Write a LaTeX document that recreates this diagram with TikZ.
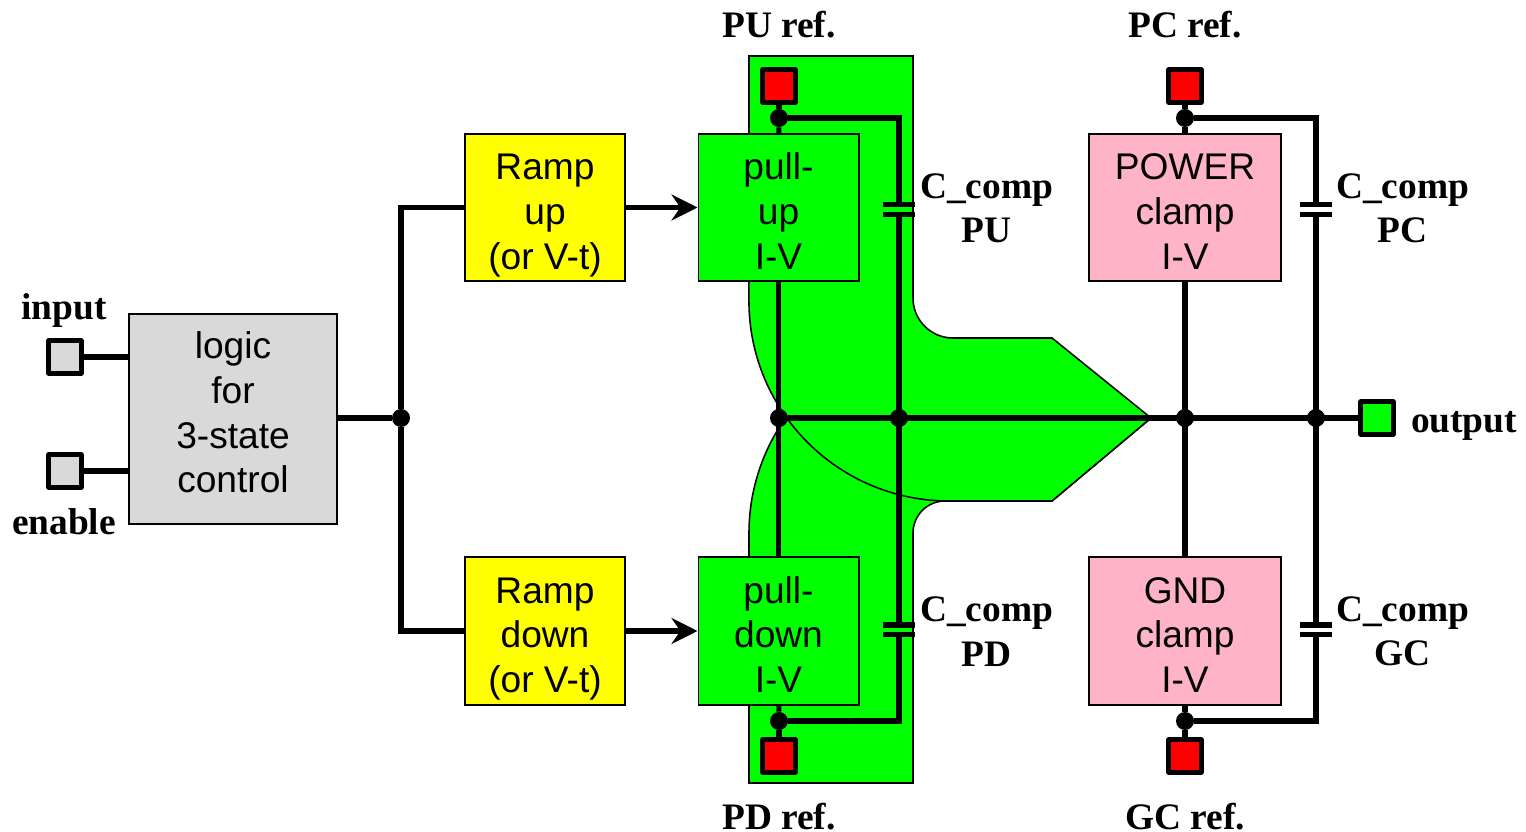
\documentclass[tikz,border=0pt]{standalone}
\usepackage{fontspec}
\setmainfont{Liberation Serif}
\setsansfont{Liberation Sans}
\usepackage{tikz}
\usetikzlibrary{arrows.meta,positioning}
\definecolor{padgray}{HTML}{D9D9D9}
\definecolor{clamppink}{HTML}{FFB3C6}
\definecolor{pullgreen}{HTML}{00FF00}
\definecolor{rampyellow}{HTML}{FFFF00}
\definecolor{refred}{HTML}{FF0000}
\begin{document}
\begin{tikzpicture}[
  x=0.025cm, y=-0.025cm,
  block/.style={draw=black, line width=1.4pt, align=center, inner sep=0pt, font=\sffamily\fontsize{26.4}{31.7}\selectfont, text height=#1, text depth=0pt},
  ramp/.style={block=87.5pt, fill=rampyellow, minimum width=4cm, minimum height=3.675cm},
  pull/.style={block=87.5pt, fill=pullgreen, minimum width=4cm, minimum height=3.675cm},
  clamp/.style={block=87.5pt, fill=clamppink, minimum width=4.8cm, minimum height=3.675cm},
  pad/.style={draw=black, line width=3.6pt, line join=round, minimum size=0.81cm, inner sep=0pt},
  wire/.style={draw=black, line width=3.6pt},
  dot/.style={circle, fill=black, minimum size=0.45cm, inner sep=0pt},
  plate/.style={fill=black, minimum width=0.8cm, minimum height=0.125cm, inner sep=0pt},
  lbl/.style={font=\bfseries\fontsize{26.6}{31.7}\selectfont, align=center, inner sep=0pt},
  region/.style={draw=black, line width=1.1pt, fill=pullgreen},
]
\useasboundingbox (0,0) rectangle (1526,832);
% green regions behind the driver
\path[region] (749,783) -- (913,783) -- (913,533) arc[start angle=180, end angle=90, radius=0.8cm]
  -- (1052,501) -- (1151,418) -- (834.3,369.2) arc[start angle=125, end angle=180, radius=5cm] -- cycle;
\path[region] (749,56) -- (913,56) -- (913,298) arc[start angle=180, end angle=270, radius=1cm]
  -- (1052,338) -- (1151,418) -- (1052,501) -- (949,501) arc[start angle=270, end angle=180, radius=5cm] -- cycle;
% blocks
\node[block=104.8pt, fill=padgray, minimum width=5.2cm, minimum height=5.25cm] (logic) at (233,419) {logic\\for\\3-state\\control};
\node[ramp] (rup) at (545,207.5) {Ramp\\up\\(or V-t)};
\node[ramp] (rdn) at (545,631) {Ramp\\down\\(or V-t)};
\node[pull] (pup) at (778.5,207.5) {pull-\\up\\I-V};
\node[pull] (pdn) at (778.5,631) {pull-\\down\\I-V};
\node[clamp] (pwr) at (1185,207.5) {POWER\\clamp\\I-V};
\node[clamp] (gnd) at (1185,631) {GND\\clamp\\I-V};
% pads
\node[pad, fill=padgray] (in) at (65,357) {};
\node[pad, fill=padgray] (en) at (65,471) {};
\node[pad, fill=refred] (puref) at (779,86) {};
\node[pad, fill=refred] (pdref) at (779,756) {};
\node[pad, fill=refred] (pcref) at (1185,86) {};
\node[pad, fill=refred] (gcref) at (1185,756) {};
\node[pad, fill=pullgreen] (out) at (1377,418) {};
% junctions
\node[dot] (jl) at (401,418) {};
\node[dot] (jpu) at (779,118) {};
\node[dot] (jpd) at (779,721) {};
\node[dot] (jpc) at (1185,118) {};
\node[dot] (jgc) at (1185,721) {};
\node[dot] (j1) at (779,418) {};
\node[dot] (j2) at (899,418) {};
\node[dot] (j3) at (1185,418) {};
\node[dot] (j4) at (1316,418) {};
% capacitor plates
\foreach \c/\x/\y in {cpu/899/205, cpd/899/625, cpc/1316/205, cgc/1316/625} {
  \node[plate] (\c a) at (\x,\y) {};
  \node[plate] (\c b) at (\x,\y+9.5) {};
}
% wires
\draw[wire] (in) -- (in -| logic.west);
\draw[wire] (en) -- (en -| logic.west);
\draw[wire] (logic.east |- jl) -- (jl);
\draw[wire] (rup.west) -| (jl) |- (rdn.west);
\foreach \a/\b in {rup/pup, rdn/pdn} \draw[wire, -{Stealth[length=0.65cm, width=0.65cm, inset=0.22cm]}] (\a) -- (\b);
\foreach \a/\b in {puref/jpu, jpu/pup, pdn/jpd, jpd/pdref, pcref/jpc, jpc/pwr, gnd/jgc, jgc/gcref, pup/pdn, pwr/gnd, j1/out} \draw[wire] (\a) -- (\b);
\draw[wire] (jpu) -| (cpua);
\draw[wire] (cpub) -- (cpda);
\draw[wire] (cpdb) |- (jpd);
\draw[wire] (jpc) -| (cpca);
\draw[wire] (cpcb) -- (cgca);
\draw[wire] (cgcb) |- (jgc);
% labels
\node[lbl, anchor=base] (lin) at (64,320) {input};
\node[lbl, anchor=base] (len) at (64,535) {enable};
\node[lbl, anchor=base] (lout) at (1464,432.5) {output};
\node[lbl, anchor=base] (lpu) at (779,38) {PU ref.};
\node[lbl, anchor=base] (lpc) at (1185,38) {PC ref.};
\node[lbl, anchor=base] (lpd) at (779,829) {PD ref.};
\node[lbl, anchor=base] (lgc) at (1185,829) {GC ref.};
\node[lbl] (ccpu) at (986.5,208.5) {C\_comp\\PU};
\node[lbl] (ccpc) at (1402.5,208.5) {C\_comp\\PC};
\node[lbl] (ccpd) at (986.5,631.5) {C\_comp\\PD};
\node[lbl] (ccgc) at (1402.5,631.5) {C\_comp\\GC};
\end{tikzpicture}
\end{document}
